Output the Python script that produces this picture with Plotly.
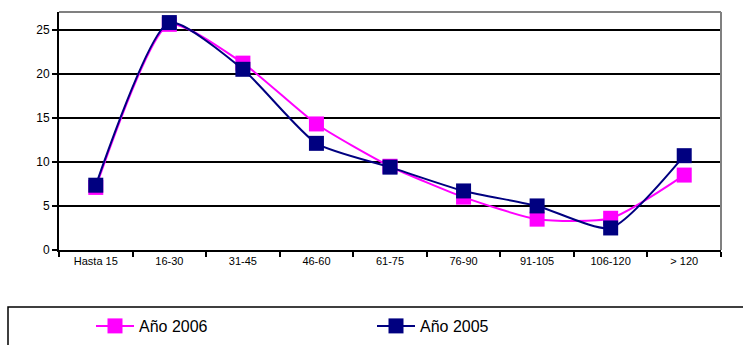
import plotly.graph_objects as go

categories = ["Hasta 15", "16-30", "31-45", "46-60", "61-75", "76-90", "91-105", "106-120", "> 120"]
anio_2006 = [7.1, 25.6, 21.2, 14.3, 9.5, 6.0, 3.5, 3.6, 8.5]
anio_2005 = [7.35, 25.8, 20.5, 12.1, 9.4, 6.7, 5.0, 2.5, 10.7]
y_ticks = [0, 5, 10, 15, 20, 25]

W, H = 743, 345
ml, mr, mt, mb = 59, 22, 12, 95
pw = W - ml - mr
ph = H - mt - mb

def px_x(p):
    return (p - ml) / pw

def px_y(p):
    return (H - mb - p) / ph

fig = go.Figure()
fig.add_trace(go.Scatter(
    x=categories, y=anio_2006, name="Año 2006", mode="lines+markers",
    line=dict(color="#FF00FF", width=2, shape="spline", smoothing=0.6),
    marker=dict(symbol="square", size=15, color="#FF00FF"),
    legend="legend"))
fig.add_trace(go.Scatter(
    x=categories, y=anio_2005, name="Año 2005", mode="lines+markers",
    line=dict(color="#000080", width=2, shape="spline", smoothing=0.6),
    marker=dict(symbol="square", size=15, color="#000080"),
    legend="legend2"))

legend_font = dict(family="Liberation Sans, Arial", size=16, color="black")
fig.update_layout(
    width=W, height=H,
    margin=dict(l=ml, r=mr, t=mt, b=mb, autoexpand=False),
    paper_bgcolor="white", plot_bgcolor="white",
    font=dict(family="Liberation Sans, Arial", color="black"),
    showlegend=True,
    legend=dict(x=91 / W, y=1 - 309 / H, xref="container", yref="container",
                xanchor="left", yanchor="top",
                orientation="h", font=legend_font, bgcolor="rgba(0,0,0,0)",
                itemwidth=38),
    legend2=dict(x=372 / W, y=1 - 309 / H, xref="container", yref="container",
                 xanchor="left", yanchor="top",
                 orientation="h", font=legend_font, bgcolor="rgba(0,0,0,0)",
                 itemwidth=38),
    xaxis=dict(
        showgrid=False, showline=True, linecolor="black", linewidth=2,
        ticks="outside", tickson="boundaries", ticklen=5, tickwidth=2, tickcolor="black",
        tickfont=dict(size=11), zeroline=False, fixedrange=True,
        range=[-0.5, len(categories) - 0.5]),
    yaxis=dict(
        range=[0, 27], tickvals=y_ticks, showgrid=True, gridcolor="black", gridwidth=2,
        showline=True, linecolor="black", linewidth=2,
        ticks="outside", ticklen=5, tickwidth=2, tickcolor="black",
        tickfont=dict(size=12), zeroline=False, fixedrange=True),
    shapes=[
        dict(type="line", xref="paper", yref="paper", x0=0, x1=1, y0=1, y1=1,
             line=dict(color="#808080", width=2)),
        dict(type="line", xref="paper", yref="paper", x0=1, x1=1, y0=0, y1=1,
             line=dict(color="#808080", width=2)),
        dict(type="rect", xref="paper", yref="paper",
             x0=px_x(8), x1=px_x(760), y0=px_y(307), y1=px_y(360),
             line=dict(color="black", width=1.5)),
    ],
)

fig.write_html("out.html", config={"displayModeBar": False},
               post_script="document.body.style.margin='0px';")
